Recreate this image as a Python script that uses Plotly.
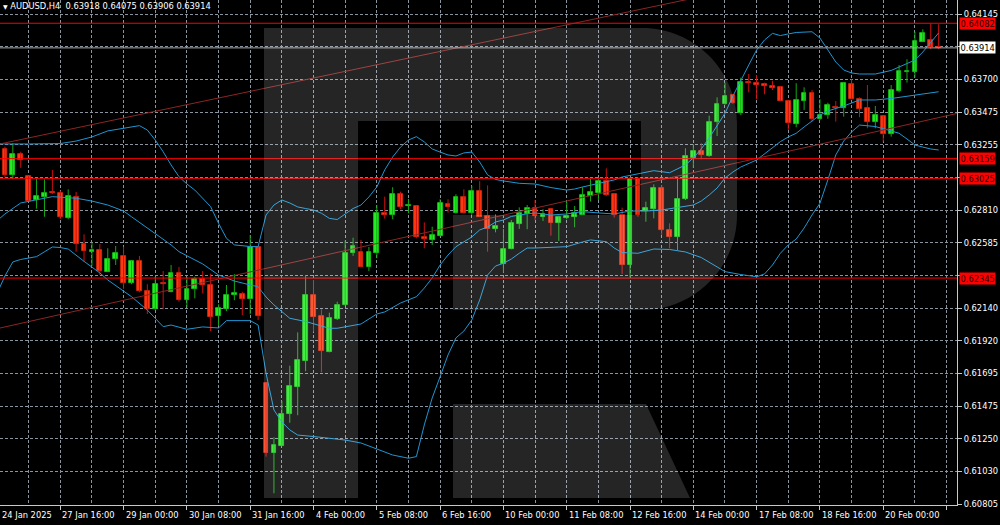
import plotly.graph_objects as go

# ---------------- data (AUDUSD H4) ----------------
bar_index = list(range(119))
opens = [0.63225,0.63048,0.63189,0.63041,0.62877,0.62898,0.62932,0.62923,0.62757,0.62900,
         0.62575,0.62525,0.62534,0.62389,0.62477,0.62498,0.62309,0.62459,0.62257,0.62132,
         0.62312,0.62250,0.62380,0.62196,0.62269,0.62339,0.62298,0.62086,0.62132,0.62229,
         0.62238,0.62200,0.62555,0.61628,0.61155,0.61203,0.61419,0.61601,0.61782,0.62231,
         0.62086,0.61843,0.62066,0.62160,0.62518,0.62525,0.62423,0.62518,0.62791,0.62773,
         0.62918,0.62836,0.62836,0.62627,0.62605,0.62632,0.62852,0.62787,0.62896,0.62791,
         0.62939,0.62770,0.62682,0.62441,0.62543,0.62714,0.62780,0.62821,0.62763,0.62814,
         0.62718,0.62754,0.62759,0.62777,0.62907,0.62923,0.63007,0.62918,0.62775,0.62432,
         0.63020,0.62802,0.62814,0.62961,0.62673,0.62627,0.62882,0.63162,0.63213,0.63179,
         0.63407,0.63532,0.63591,0.63472,0.63682,0.63673,0.63666,0.63652,0.63645,0.63552,
         0.63395,0.63552,0.63605,0.63429,0.63456,0.63513,0.63502,0.63668,0.63567,0.63506,
         0.63407,0.63452,0.63327,0.63622,0.63750,0.63752,0.63956,0.63968,0.63918]
highs = [0.63241,0.63264,0.63206,0.63043,0.63020,0.63018,0.63082,0.62941,0.62950,0.62932,
         0.62643,0.62586,0.62577,0.62548,0.62564,0.62559,0.62461,0.62496,0.62303,0.62354,
         0.62393,0.62434,0.62421,0.62352,0.62354,0.62393,0.62375,0.62166,0.62298,0.62372,
         0.62252,0.62638,0.62557,0.61630,0.61260,0.61507,0.61748,0.61975,0.62366,0.62332,
         0.62132,0.62109,0.62184,0.62600,0.62620,0.62605,0.62557,0.62843,0.62900,0.62964,
         0.62934,0.62884,0.62838,0.62725,0.62695,0.62882,0.62882,0.62916,0.62950,0.62973,
         0.63005,0.62977,0.62780,0.62680,0.62741,0.62827,0.62843,0.62877,0.62814,0.62821,
         0.62770,0.62864,0.62836,0.62964,0.63020,0.63020,0.63093,0.62920,0.62825,0.63032,
         0.63032,0.62866,0.62984,0.62979,0.62718,0.63025,0.63230,0.63257,0.63264,0.63452,
         0.63577,0.63677,0.63600,0.63711,0.63736,0.63729,0.63677,0.63690,0.63654,0.63559,
         0.63673,0.63645,0.63627,0.63564,0.63540,0.63552,0.63677,0.63700,0.63577,0.63661,
         0.63518,0.63456,0.63661,0.63797,0.63836,0.64024,0.64041,0.64082,0.64075]
lows = [0.63032,0.63018,0.63097,0.62870,0.62818,0.62763,0.62918,0.62748,0.62746,0.62525,
        0.62457,0.62429,0.62366,0.62386,0.62434,0.62271,0.62303,0.62248,0.62100,0.62127,
        0.62132,0.62248,0.62184,0.62146,0.62207,0.62241,0.61984,0.62020,0.62120,0.62194,
        0.62093,0.62098,0.62059,0.61128,0.60878,0.61201,0.61359,0.61410,0.61710,0.61980,
        0.61703,0.61839,0.62059,0.62158,0.62496,0.62421,0.62393,0.62480,0.62750,0.62746,
        0.62816,0.62787,0.62616,0.62548,0.62571,0.62630,0.62791,0.62785,0.62785,0.62775,
        0.62761,0.62525,0.62657,0.62382,0.62541,0.62680,0.62678,0.62741,0.62734,0.62634,
        0.62598,0.62746,0.62691,0.62775,0.62866,0.62877,0.62904,0.62757,0.62373,0.62350,
        0.62763,0.62729,0.62752,0.62639,0.62548,0.62536,0.62877,0.63097,0.63155,0.63172,
        0.63313,0.63527,0.63532,0.63456,0.63611,0.63564,0.63598,0.63627,0.63552,0.63354,
        0.63373,0.63491,0.63411,0.63422,0.63431,0.63411,0.63445,0.63565,0.63441,0.63366,
        0.63366,0.63275,0.63309,0.63611,0.63677,0.63711,0.63954,0.63906,0.63906]
closes = [0.63048,0.63191,0.63148,0.62872,0.62904,0.62925,0.62922,0.62763,0.62907,0.62575,
          0.62530,0.62534,0.62395,0.62473,0.62516,0.62309,0.62459,0.62255,0.62134,0.62305,
          0.62303,0.62380,0.62194,0.62273,0.62339,0.62296,0.62079,0.62139,0.62231,0.62241,
          0.62202,0.62555,0.62086,0.61151,0.61207,0.61419,0.61609,0.61787,0.62231,0.62079,
          0.61846,0.62071,0.62164,0.62518,0.62562,0.62423,0.62523,0.62791,0.62773,0.62918,
          0.62832,0.62843,0.62623,0.62609,0.62639,0.62855,0.62827,0.62896,0.62787,0.62941,
          0.62763,0.62680,0.62700,0.62543,0.62718,0.62787,0.62821,0.62766,0.62780,0.62718,
          0.62759,0.62766,0.62787,0.62911,0.62934,0.63007,0.62913,0.62775,0.62434,0.63020,
          0.62775,0.62821,0.62961,0.62673,0.62627,0.62882,0.63179,0.63213,0.63184,0.63411,
          0.63532,0.63586,0.63540,0.63682,0.63673,0.63663,0.63652,0.63641,0.63554,0.63400,
          0.63559,0.63605,0.63429,0.63456,0.63523,0.63506,0.63673,0.63567,0.63497,0.63407,
          0.63456,0.63327,0.63627,0.63758,0.63758,0.63963,0.64016,0.63917,0.63914]

# Bollinger bands (at sample bars)
upper_bars = [-1,0,3,7,9,11,13,15,17,18,19,20,21,22,23,24,25,26,27,28,29,30,31,32,33,34,35,36,37,38,39,40,
              41,42,43,44,45,46,47,48,49,50,51,52,53,54,55,56,57,58,59,60,61,62,63,65,67,69,71,72,73,75,77,
              78,80,82,84,86,87,88,89,90,91,92,93,94,95,96,97,98,99,100,102,103,104,105,106,107,108,110,112,
              114,115,116,117,118]
upper_vals = [0.63264,0.63259,0.63259,0.63262,0.63279,0.63307,0.63348,0.63368,0.63384,0.63354,0.63286,0.63206,
              0.63116,0.63036,0.62986,0.62945,0.62891,0.62832,0.62718,0.62616,0.62571,0.62564,0.62560,0.62559,
              0.62775,0.62843,0.62877,0.62857,0.62830,0.62819,0.62809,0.62787,0.62752,0.62744,0.62782,0.62819,
              0.62843,0.62898,0.62966,0.63082,0.63170,0.63238,0.63286,0.63309,0.63273,0.63225,0.63204,0.63184,
              0.63177,0.63198,0.63204,0.63136,0.63048,0.63017,0.63007,0.62991,0.62986,0.62962,0.62945,0.62952,
              0.62966,0.62991,0.63014,0.63034,0.63054,0.63077,0.63063,0.63116,0.63164,0.63225,0.63300,0.63382,
              0.63468,0.63586,0.63695,0.63797,0.63900,0.63968,0.64013,0.63998,0.64009,0.64019,0.64024,0.63981,
              0.63900,0.63818,0.63763,0.63743,0.63736,0.63736,0.63760,0.63804,0.63831,0.63886,0.63954,0.64016]
mid_bars = [-1,0,2,4,6,9,11,13,15,16,18,19,21,22,24,25,27,29,31,32,33,34,36,38,40,41,42,44,45,47,48,50,52,53,
            54,55,56,57,58,59,60,61,62,63,64,65,67,69,71,73,75,77,79,81,83,85,87,88,89,90,91,92,93,95,97,98,
            99,100,101,102,103,104,105,106,108,110,112,114,116,118]
mid_vals = [0.62735,0.62782,0.62857,0.62881,0.62900,0.62889,0.62870,0.62843,0.62802,0.62763,0.62686,0.62650,
            0.62571,0.62525,0.62468,0.62441,0.62366,0.62325,0.62298,0.62286,0.62216,0.62162,0.62071,0.62049,
            0.62018,0.62003,0.62003,0.62025,0.62032,0.62100,0.62114,0.62175,0.62218,0.62277,0.62346,0.62434,
            0.62502,0.62559,0.62591,0.62625,0.62673,0.62693,0.62727,0.62741,0.62765,0.62775,0.62789,0.62775,
            0.62782,0.62798,0.62789,0.62782,0.62802,0.62802,0.62809,0.62826,0.62843,0.62870,0.62911,0.62959,
            0.63027,0.63068,0.63102,0.63150,0.63232,0.63275,0.63307,0.63332,0.63375,0.63416,0.63456,0.63484,
            0.63501,0.63518,0.63559,0.63559,0.63569,0.63586,0.63600,0.63615]
lower_bars = [-1,0,1,2,4,6,7,8,10,12,13,15,16,18,20,21,23,25,27,28,31,32,33,34,35,36,37,39,41,43,45,47,49,51,
              52,53,54,55,56,57,58,59,60,61,62,63,64,65,66,67,69,71,73,74,76,77,78,80,82,84,86,88,90,91,93,95,
              96,97,98,99,100,101,102,103,104,105,106,107,108,110,112,113,114,115,116,117,118]
lower_vals = [0.62240,0.62359,0.62455,0.62472,0.62491,0.62557,0.62553,0.62543,0.62459,0.62380,0.62332,0.62257,
              0.62218,0.62127,0.62014,0.62025,0.61996,0.62012,0.62005,0.62055,0.62055,0.62025,0.61696,0.61446,
              0.61364,0.61310,0.61275,0.61265,0.61253,0.61241,0.61221,0.61180,0.61139,0.61117,0.61128,0.61344,
              0.61528,0.61673,0.61821,0.61937,0.61984,0.62059,0.62196,0.62366,0.62427,0.62446,0.62475,0.62514,
              0.62550,0.62550,0.62553,0.62559,0.62591,0.62605,0.62593,0.62550,0.62519,0.62514,0.62543,0.62540,
              0.62523,0.62485,0.62421,0.62389,0.62369,0.62354,0.62373,0.62434,0.62514,0.62571,0.62611,0.62686,
              0.62775,0.62855,0.63014,0.63184,0.63279,0.63341,0.63388,0.63378,0.63348,0.63332,0.63293,0.63252,
              0.63238,0.63225,0.63218]

# horizontal levels and trend lines
red_levels = [0.64082, 0.63159, 0.63025, 0.62345]
current_price = 0.63914
trend_upper_bars = [-1, 121]
trend_upper_vals = [0.63255, 0.64638]
trend_lower_bars = [-1, 121]
trend_lower_vals = [0.62000, 0.63475]

# axis ticks
price_grid = [0.60805 + k * (0.64145 - 0.60805) / 15 for k in range(16)]
price_grid_text = ["0.60805", "0.61030", "0.61250", "0.61475", "0.61695", "0.61920", "0.62140", "",
                   "0.62585", "0.62810", "", "0.63255", "0.63475", "0.63700", "", "0.64145"]
time_label_bars = [7, 15, 23, 31, 39, 47, 55, 63, 71, 79, 87, 95, 103, 111]
time_labels = ["27 Jan 16:00", "29 Jan 00:00", "30 Jan 08:00", "31 Jan 16:00", "4 Feb 00:00",
               "5 Feb 08:00", "6 Feb 16:00", "10 Feb 00:00", "11 Feb 08:00", "12 Feb 16:00",
               "14 Feb 00:00", "17 Feb 08:00", "18 Feb 16:00", "20 Feb 00:00"]
first_label = "24 Jan 2025"
title_text = "AUDUSD,H4  0.63918 0.64075 0.63906 0.63914"

# ---------------- styling ----------------
BG = "#000000"
GRID = "#8a949e"
BULL_BODY, BULL_EDGE, BULL_WICK = "#22ee22", "#16c816", "#14a814"
BEAR_BODY, BEAR_EDGE, BEAR_WICK = "#ff3a12", "#e02a0a", "#cc1010"
BAND = "#1e96d2"
FONT = "DejaVu Sans"
FS = 8.3

PLOT_W, PLOT_H = 957, 505
X_RANGE = [-0.62, 120.32]
Y_RANGE = [0.607982, 0.642404]

fig = go.Figure()

# wicks
for bull in (True, False):
    wx, wy = [], []
    for i, o, h, l, c in zip(bar_index, opens, highs, lows, closes):
        if (c >= o) == bull:
            wx += [i, i, None]
            wy += [l, h, None]
    fig.add_trace(go.Scatter(x=wx, y=wy, mode="lines",
                             line=dict(color=BULL_WICK if bull else BEAR_WICK, width=1),
                             hoverinfo="skip", showlegend=False))

# bodies
for bull in (True, False):
    bx, bbase, bh = [], [], []
    for i, o, c in zip(bar_index, opens, closes):
        if (c >= o) == bull:
            bx.append(i)
            bbase.append(min(o, c))
            bh.append(max(abs(c - o), 0.00002))
    fig.add_trace(go.Bar(x=bx, y=bh, base=bbase, width=0.6,
                         marker=dict(color=BULL_BODY if bull else BEAR_BODY,
                                     line=dict(color=BULL_EDGE if bull else BEAR_EDGE, width=0.8)),
                         hoverinfo="skip", showlegend=False))

# Bollinger bands
for bx, by in ((upper_bars, upper_vals), (mid_bars, mid_vals), (lower_bars, lower_vals)):
    fig.add_trace(go.Scatter(x=bx, y=by, mode="lines", line=dict(color=BAND, width=1),
                             hoverinfo="skip", showlegend=False))

# trend lines
for tx, ty in ((trend_upper_bars, trend_upper_vals), (trend_lower_bars, trend_lower_vals)):
    fig.add_trace(go.Scatter(x=tx, y=ty, mode="lines", line=dict(color="#8e2424", width=1),
                             hoverinfo="skip", showlegend=False))

# horizontal levels
for lv in red_levels:
    fig.add_trace(go.Scatter(x=X_RANGE, y=[lv, lv], mode="lines", line=dict(color="#ff0000", width=1),
                             hoverinfo="skip", showlegend=False))
fig.add_trace(go.Scatter(x=X_RANGE, y=[current_price, current_price], mode="lines",
                         line=dict(color="#a8a8a8", width=1), hoverinfo="skip", showlegend=False))

# ---------------- watermark (decorative logo) ----------------
def P(px, py):
    return f"{px / PLOT_W:.5f},{1 - py / PLOT_H:.5f}"

k = 0.5523 * 95
logo_main = ("M " + P(264, 498) + " L " + P(264, 28) + " L " + P(642, 28) +
             " C " + P(642 + k, 28) + " " + P(737, 123 - k) + " " + P(737, 123) +
             " L " + P(737, 215) +
             " C " + P(737, 215 + k) + " " + P(642 + k, 310) + " " + P(642, 310) +
             " L " + P(453, 310) + " L " + P(453, 215) + " L " + P(641, 215) + " L " + P(641, 121) +
             " L " + P(358, 121) + " L " + P(358, 498) + " Z")
logo_leg = ("M " + P(453, 404) + " L " + P(646, 404) + " L " + P(690, 498) + " L " + P(453, 498) + " Z")
shapes = []
for pth in (logo_main, logo_leg):
    shapes.append(dict(type="path", path=pth, xref="paper", yref="paper", layer="above",
                       fillcolor="rgba(255,255,255,0.145)", line=dict(width=0)))

# ---------------- annotations ----------------
ann = []
ann.append(dict(xref="paper", yref="paper", x=0, y=1, xanchor="left", yanchor="top", xshift=1, yshift=1,
                text="<span style='font-size:6px'>▼</span> " + title_text, showarrow=False,
                font=dict(family=FONT, size=FS, color="#ffffff")))
for b, t in zip(time_label_bars, time_labels):
    ann.append(dict(xref="x", yref="paper", x=b, y=0, xanchor="left", yanchor="top", xshift=0, yshift=-3,
                    text=t, showarrow=False, font=dict(family=FONT, size=FS, color="#ffffff")))
ann.append(dict(xref="paper", yref="paper", x=0, y=0, xanchor="left", yanchor="top", xshift=0, yshift=-3,
                text=first_label, showarrow=False, font=dict(family=FONT, size=FS, color="#ffffff")))
for lv in red_levels:
    ann.append(dict(xref="paper", yref="y", x=1, y=lv, xanchor="left", yanchor="middle", xshift=2,
                    text=f"{lv:.5f}", showarrow=False, bgcolor="#ff0000", borderpad=0.5,
                    font=dict(family=FONT, size=FS, color="#1a0000")))
ann.append(dict(xref="paper", yref="y", x=1, y=current_price, xanchor="left", yanchor="middle", xshift=2,
                text=f"{current_price:.5f}", showarrow=False, bgcolor="#ffffff", borderpad=0.5,
                font=dict(family=FONT, size=FS, color="#000000")))

fig.update_layout(
    width=1000, height=525,
    margin=dict(l=0, r=43, t=0, b=20),
    paper_bgcolor=BG, plot_bgcolor=BG,
    showlegend=False, bargap=0, barmode="overlay",
    shapes=shapes, annotations=ann,
    xaxis=dict(range=X_RANGE, tickmode="linear", tick0=7, dtick=8, showticklabels=False,
               ticks="outside", ticklen=4, tickcolor="#c8c8c8",
               showgrid=True, gridcolor=GRID, griddash="3px,2px", gridwidth=1,
               minor=dict(tickmode="linear", tick0=3, dtick=4, showgrid=True, gridcolor=GRID,
                          griddash="3px,2px", ticks=""),
               showline=True, linecolor="#c8c8c8", linewidth=1, zeroline=False, fixedrange=True),
    yaxis=dict(range=Y_RANGE, side="right", tickmode="array", tickvals=price_grid,
               ticktext=price_grid_text, ticks="outside", ticklen=4, tickcolor="#c8c8c8",
               tickfont=dict(family=FONT, size=FS, color="#ffffff"),
               showgrid=True, gridcolor=GRID, griddash="3px,2px", gridwidth=1,
               showline=True, linecolor="#c8c8c8", linewidth=1, zeroline=False, fixedrange=True),
)

fig.write_html("out.html", config={"displayModeBar": False},
               post_script="document.body.style.margin='0';document.body.style.overflow='hidden';"
                           "document.body.style.background='#000';")
